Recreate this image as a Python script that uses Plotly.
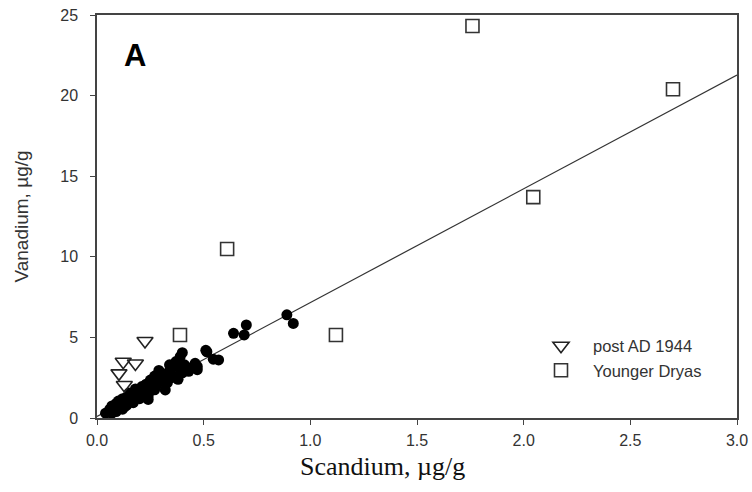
import numpy as np
import plotly.graph_objects as go

# Black dots (all samples)
sc_all = [0.05, 0.06, 0.07, 0.07, 0.08, 0.09, 0.09, 0.10, 0.10, 0.11, 0.12, 0.12, 0.13, 0.14,
          0.14, 0.15, 0.16, 0.17, 0.17, 0.18, 0.19, 0.20, 0.20, 0.21, 0.22, 0.23, 0.23, 0.24,
          0.25, 0.26, 0.27, 0.28, 0.28, 0.29, 0.30, 0.32, 0.32, 0.33, 0.34, 0.35, 0.36, 0.36,
          0.37, 0.38, 0.39, 0.39, 0.40, 0.40, 0.41, 0.42, 0.43, 0.46, 0.47, 0.47,
          0.15, 0.18, 0.21, 0.25, 0.27, 0.31, 0.13, 0.24, 0.04, 0.34,
          0.51, 0.515, 0.545, 0.57, 0.64, 0.69, 0.70, 0.89, 0.92]
v_all = [0.35, 0.55, 0.30, 0.75, 0.50, 0.90, 0.40, 0.65, 1.05, 0.80, 0.55, 1.20, 0.95, 1.30,
         0.80, 1.10, 1.45, 1.20, 0.95, 1.55, 1.35, 1.70, 1.20, 1.50, 1.85, 1.60, 2.10, 1.40,
         1.90, 2.20, 1.75, 2.40, 2.05, 2.95, 2.30, 1.74, 2.60, 2.20, 2.90, 2.50, 3.20, 2.56,
         3.50, 2.40, 3.00, 3.80, 4.05, 2.80, 3.30, 3.15, 2.90, 3.39, 3.20, 3.00,
         1.55, 1.80, 1.95, 2.35, 2.60, 2.75, 0.70, 1.15, 0.30, 3.30,
         4.20, 4.11, 3.65, 3.60, 5.25, 5.15, 5.77, 6.40, 5.87]

# post AD 1944 (open down-triangles)
sc_post = [0.225, 0.123, 0.180, 0.103, 0.128]
v_post = [4.78, 3.49, 3.38, 2.77, 2.05]

# Younger Dryas (open squares)
sc_yd = [1.76, 2.70, 2.045, 0.61, 0.389, 1.12]
v_yd = [24.32, 20.39, 13.70, 10.48, 5.15, 5.15]

# Regression line coefficients
fit_slope = 7.06
fit_intercept = 0.10
fit_range = [0.0, 3.0]

x_ticks = [0.0, 0.5, 1.0, 1.5, 2.0, 2.5, 3.0]
x_ticklabels = ["0.0", "0.5", "1.0", "1.5", "2.0", "2.5", "3.0"]
y_ticks = [0, 5, 10, 15, 20, 25]

fx = np.array(fit_range)
fy = fit_slope * fx + fit_intercept

fig = go.Figure()
fig.add_trace(go.Scatter(x=fx, y=fy, mode="lines", line=dict(color="#333333", width=1.2),
                         showlegend=False, hoverinfo="skip"))
fig.add_trace(go.Scatter(x=sc_all, y=v_all, mode="markers",
                         marker=dict(symbol="circle", size=11, color="black",
                                     line=dict(width=0)),
                         showlegend=False))
fig.add_trace(go.Scatter(x=sc_post, y=v_post, mode="markers", name="post AD 1944",
                         marker=dict(symbol="triangle-down-open", size=14, color="#222222",
                                     line=dict(width=1.6))))
fig.add_trace(go.Scatter(x=sc_yd, y=v_yd, mode="markers", name="Younger Dryas",
                         marker=dict(symbol="square-open", size=13, color="#333333",
                                     line=dict(width=1.6))))

axis_common = dict(showgrid=False, zeroline=False, showline=True, linecolor="#444444",
                   linewidth=1.5, mirror=True, ticks="outside", ticklen=5, tickwidth=1.3,
                   tickcolor="#444444", automargin=False,
                   tickfont=dict(family="Liberation Sans, Arial", size=16, color="#333333"))

fig.update_layout(
    width=752, height=492,
    margin=dict(l=97, r=15, t=15, b=74),
    paper_bgcolor="white", plot_bgcolor="white",
    xaxis=dict(range=[0, 3.0], tickvals=x_ticks, ticktext=x_ticklabels,
               ticklabelstandoff=2, **axis_common),
    yaxis=dict(range=[0, 25], tickvals=y_ticks,
               title=dict(text="Vanadium, µg/g",
                          font=dict(family="Liberation Sans, Arial", size=19, color="#333333"),
                          standoff=27),
               ticklabelstandoff=9, **axis_common),
    legend=dict(x=0.675, y=0.222, xanchor="left", yanchor="top", bgcolor="rgba(0,0,0,0)",
                font=dict(family="Liberation Sans, Arial", size=16.5, color="#333333"),
                itemwidth=54, tracegroupgap=0),
    annotations=[
        dict(text="<b>A</b>", x=(135 - 97) / 640, y=(418 - 55) / 403,
             xref="paper", yref="paper", xanchor="center", yanchor="middle",
             showarrow=False, font=dict(family="Liberation Sans, Arial", size=31,
                                        color="black")),
        dict(text="Scandium, µg/g", x=(382 - 97) / 640, y=(418 - 466) / 403,
             xref="paper", yref="paper", xanchor="center", yanchor="middle",
             showarrow=False, font=dict(family="Liberation Serif, Times New Roman", size=26,
                                        color="#111111")),
    ],
)

fig.write_html("out.html")
